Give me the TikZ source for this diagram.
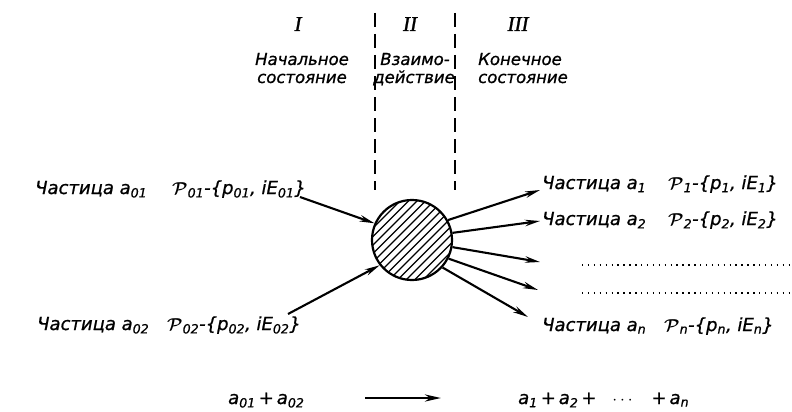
\documentclass[tikz,border=0pt]{standalone}
\usepackage{amsmath}
\usepackage{fontspec}
\setmainfont{DejaVu Sans}
\newfontfamily\lblfont{DejaVu Sans Oblique}[FakeBold=0.9]
\newfontfamily\romfont{Liberation Serif Italic}[FakeBold=1.2]
\usetikzlibrary{arrows.meta}
\begin{document}
\begin{tikzpicture}[x=1pt,y=-1pt,
  lbl/.style={inner sep=0pt, anchor=base west, font=\fontsize{18}{20}\selectfont\lblfont},
  hdr/.style={inner sep=0pt, anchor=base, font=\fontsize{16.5}{18}\selectfont\lblfont},
  rom/.style={inner sep=0pt, anchor=base, font=\fontsize{21}{21}\selectfont\romfont},
  arr/.style={line width=2.1pt, -{Stealth[length=15pt,width=6.5pt]}},
  bigarr/.style={line width=2.6pt, -{Stealth[length=16pt,width=7pt]}},
  sep/.style={line width=2.2pt, dash pattern=on 14pt off 7pt},
  dotline/.style={line width=1.4pt, dash pattern=on 1.4pt off 4.5pt},
  hatch/.style={line width=1.1pt},
]
\useasboundingbox (0,0) rectangle (792,412);
% header
\node[rom] (r1) at (298,31) {I};
\node[rom] (r2) at (410,31) {II};
\node[rom] (r3) at (518,31) {III};
\node[hdr] (h1a) at (302,65) {Начальное};
\node[hdr] (h1b) at (302,83) {состояние};
\node[hdr] (h2a) at (415,65) {Взаимо-};
\node[hdr] (h2b) at (414,83) {действие};
\node[hdr] (h3a) at (520,65) {Конечное};
\node[hdr] (h3b) at (523,83) {состояние};
% separators
\draw[sep] (375,13) -- (375,190);
\draw[sep] (455,13) -- (455,190);
% circle with hatching
\begin{scope}
  \clip (412,240) circle (40);
  \foreach \k in {-10,...,10}
    \draw[hatch, shift={({412+\k*8.5},240)}] (-60,60) -- (60,-60);
\end{scope}
\node[circle, draw, line width=2.2pt, minimum size=80pt, inner sep=0pt] (c) at (412,240) {};
% left labels
\node[lbl] (l1) at (35,194) {Частица a\textsubscript{01}};
\node[lbl] (p1) at (172,194) {$\boldsymbol{\mathcal{P}}$\textsubscript{01}-\{p\textsubscript{01}, iE\textsubscript{01}\}};
\node[lbl] (l2) at (37,330) {Частица a\textsubscript{02}};
\node[lbl] (p2) at (167,330) {$\boldsymbol{\mathcal{P}}$\textsubscript{02}-\{p\textsubscript{02}, iE\textsubscript{02}\}};
% right labels
\node[lbl] (ra1) at (542,189) {Частица a\textsubscript{1}};
\node[lbl] (rp1) at (668,189) {$\boldsymbol{\mathcal{P}}$\textsubscript{1}-\{p\textsubscript{1}, iE\textsubscript{1}\}};
\node[lbl] (ra2) at (542,225) {Частица a\textsubscript{2}};
\node[lbl] (rp2) at (668,225) {$\boldsymbol{\mathcal{P}}$\textsubscript{2}-\{p\textsubscript{2}, iE\textsubscript{2}\}};
\node[lbl] (ran) at (542,331) {Частица a\textsubscript{n}};
\node[lbl] (rpn) at (664,331) {$\boldsymbol{\mathcal{P}}$\textsubscript{n}-\{p\textsubscript{n}, iE\textsubscript{n}\}};
% dotted lines
\draw[dotline] (582,265) -- (792,265);
\draw[dotline] (582,293) -- (792,293);
% arrows
\coordinate (i1) at (300,197);
\coordinate (i2) at (288,314);
\draw[arr] (i1) -- (c.156);
\draw[arr] (i2) -- (c.218);
\coordinate (o1) at (540,190);
\coordinate (o2) at (540,221);
\coordinate (o3) at (540,262);
\coordinate (o4) at (538,290);
\coordinate (o5) at (528,317);
\draw[arr] (c.29) -- (o1);
\draw[arr] (c.10) -- (o2);
\draw[arr] (c.-10) -- (o3);
\draw[arr] (c.-27) -- (o4);
\draw[arr] (c.-42) -- (o5);
% bottom reaction
\node[lbl] (b1) at (228,404) {a\textsubscript{01}\,+\,a\textsubscript{02}};
\node[lbl] (b2) at (518,404) {a\textsubscript{1}\,+\,a\textsubscript{2}\,+\hspace{16pt}$\cdots$\hspace{16pt}+\,a\textsubscript{n}};
\coordinate (bs) at (365,398);
\coordinate (be) at (441,398);
\draw[bigarr] (bs) -- (be);
\end{tikzpicture}
\end{document}
